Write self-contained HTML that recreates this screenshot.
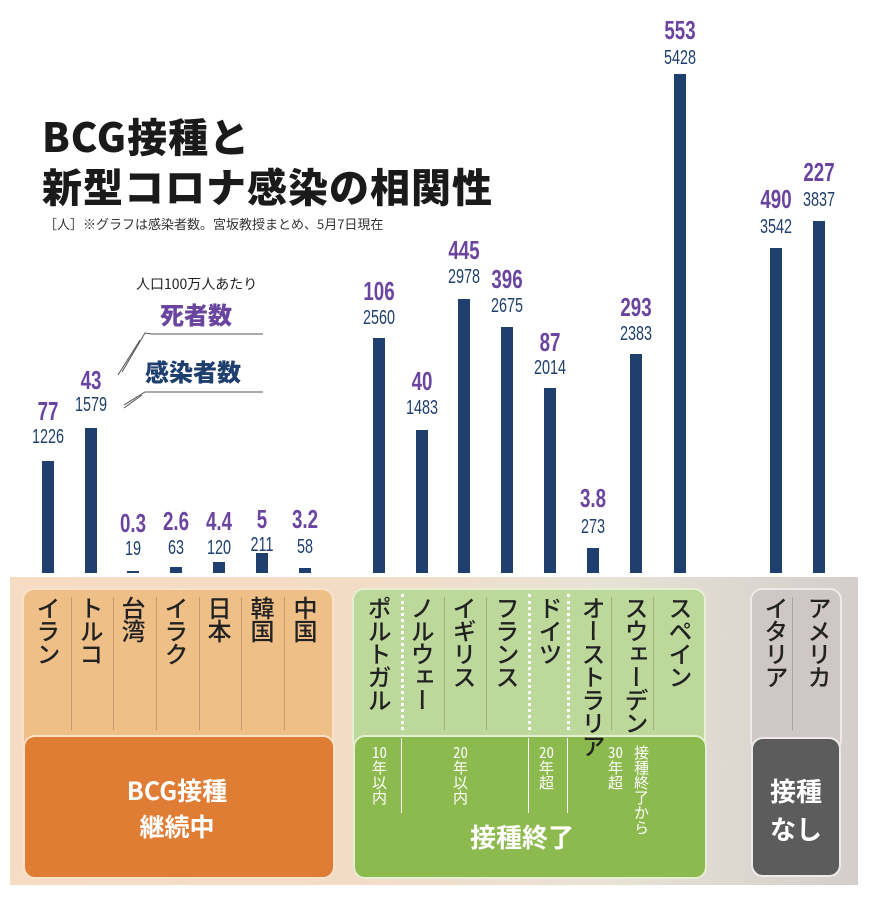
<!DOCTYPE html>
<html><head><meta charset="utf-8"><style>
body{margin:0;width:871px;height:900px;background:#fff;position:relative;overflow:hidden;font-family:"Liberation Sans","Noto Sans CJK JP",sans-serif}
.a{position:absolute}
.bar{position:absolute;width:12px;background:#1f3f6f;bottom:327px}
.d{position:absolute;width:60px;text-align:center;font-family:"Liberation Sans",sans-serif;font-weight:bold;color:#6a45a0;font-size:26px;line-height:26px;transform:scaleX(0.72)}
.c{position:absolute;width:60px;text-align:center;font-family:"Liberation Sans",sans-serif;color:#1f3f6f;font-size:20px;line-height:20px;transform:scaleX(0.72)}
.v{position:absolute;writing-mode:vertical-rl;font-family:"Noto Sans CJK JP",sans-serif;font-size:24px;line-height:26px;color:#222;font-weight:500;letter-spacing:-1px}
.sep{position:absolute;width:0;border-left:1px solid rgba(0,0,0,.18)}
.dot{position:absolute;width:0;border-left:3px dotted #fff}
.s{position:absolute;writing-mode:vertical-rl;font-family:"Noto Sans CJK JP",sans-serif;font-size:15px;line-height:17px;color:#fff}
.s b{text-combine-upright:all;font-weight:normal}
</style></head><body>
<div class="a" style="left:42px;top:110px;font-family:'Noto Sans CJK JP',sans-serif;font-weight:900;font-size:40px;line-height:50px;color:#1a1a1a;letter-spacing:1px">BCG接種と<br>新型コロナ感染の相関性</div>
<div class="a" style="left:44px;top:214px;font-family:'Noto Sans CJK JP',sans-serif;font-size:13px;color:#333">［人］※グラフは感染者数。宮坂教授まとめ、5月7日現在</div>
<div class="a" style="left:136px;top:274px;font-family:'Noto Sans CJK JP',sans-serif;font-size:14px;color:#222">人口100万人あたり</div>
<div class="a" style="left:160px;top:296px;font-family:'Noto Sans CJK JP',sans-serif;font-weight:900;font-size:24px;color:#6a45a0">死者数</div>
<div class="a" style="left:145px;top:353px;font-family:'Noto Sans CJK JP',sans-serif;font-weight:900;font-size:24px;color:#1f3f6f">感染者数</div>
<svg class="a" style="left:0;top:0" width="871" height="900"><g stroke="#555" stroke-width="1" fill="none"><polyline points="122,372 145,333 152,334 263,334"/><polyline points="118,375 140,340"/><polyline points="124,405 145,392 150,392 263,392"/><polyline points="124,408 142,395"/></g></svg>

<div class="bar" style="left:42px;height:112px"></div>
<div class="bar" style="left:85px;height:145px"></div>
<div class="bar" style="left:127px;height:2px"></div>
<div class="bar" style="left:170px;height:6px"></div>
<div class="bar" style="left:213px;height:11px"></div>
<div class="bar" style="left:256px;height:20px"></div>
<div class="bar" style="left:299px;height:5px"></div>
<div class="bar" style="left:373px;height:235px"></div>
<div class="bar" style="left:416px;height:143px"></div>
<div class="bar" style="left:458px;height:274px"></div>
<div class="bar" style="left:501px;height:246px"></div>
<div class="bar" style="left:544px;height:185px"></div>
<div class="bar" style="left:587px;height:25px"></div>
<div class="bar" style="left:630px;height:219px"></div>
<div class="bar" style="left:674px;height:499px"></div>
<div class="bar" style="left:770px;height:325px"></div>
<div class="bar" style="left:813px;height:352px"></div>

<div class="d" style="left:18px;top:398px">77</div><div class="c" style="left:18px;top:427px">1226</div>
<div class="d" style="left:61px;top:367px">43</div><div class="c" style="left:61px;top:395px">1579</div>
<div class="d" style="left:103px;top:510px">0.3</div><div class="c" style="left:103px;top:539px">19</div>
<div class="d" style="left:146px;top:508px">2.6</div><div class="c" style="left:146px;top:538px">63</div>
<div class="d" style="left:189px;top:508px">4.4</div><div class="c" style="left:189px;top:538px">120</div>
<div class="d" style="left:232px;top:506px">5</div><div class="c" style="left:232px;top:535px">211</div>
<div class="d" style="left:275px;top:506px">3.2</div><div class="c" style="left:275px;top:537px">58</div>
<div class="d" style="left:349px;top:278px">106</div><div class="c" style="left:349px;top:308px">2560</div>
<div class="d" style="left:392px;top:368px">40</div><div class="c" style="left:392px;top:398px">1483</div>
<div class="d" style="left:434px;top:237px">445</div><div class="c" style="left:434px;top:267px">2978</div>
<div class="d" style="left:477px;top:266px">396</div><div class="c" style="left:477px;top:296px">2675</div>
<div class="d" style="left:520px;top:329px">87</div><div class="c" style="left:520px;top:358px">2014</div>
<div class="d" style="left:563px;top:485px">3.8</div><div class="c" style="left:563px;top:517px">273</div>
<div class="d" style="left:606px;top:294px">293</div><div class="c" style="left:606px;top:324px">2383</div>
<div class="d" style="left:650px;top:17px">553</div><div class="c" style="left:650px;top:48px">5428</div>
<div class="d" style="left:746px;top:186px">490</div><div class="c" style="left:746px;top:217px">3542</div>
<div class="d" style="left:789px;top:159px">227</div><div class="c" style="left:789px;top:190px">3837</div>

<div class="a" style="left:10px;top:577px;width:848px;height:308px;background:linear-gradient(90deg,#f6dcc3 0%,#f3dcc6 40%,#e8e2d6 70%,#d3cecb 100%)"></div>
<div class="a" style="left:22px;top:588px;width:308px;height:160px;background:#efbf88;border-radius:12px;border:2px solid #f8e3c9"></div>
<div class="a" style="left:23px;top:735px;width:308px;height:140px;background:#e07d35;border-radius:12px;border:2px solid #f8e3c9"></div>
<div class="a" style="left:352px;top:588px;width:350px;height:160px;background:#bdd89b;border-radius:12px;border:2px solid #e5efd3"></div>
<div class="a" style="left:353px;top:735px;width:350px;height:140px;background:#8dba4e;border-radius:12px;border:2px solid #e5efd3"></div>
<div class="a" style="left:750px;top:588px;width:88px;height:160px;background:#cfc7c6;border-radius:12px;border:2px solid #eeeaea"></div>
<div class="a" style="left:751px;top:737px;width:86px;height:136px;background:#5c5c5c;border-radius:12px;border:2px solid #eeeaea"></div>

<div class="sep" style="left:71px;top:597px;height:133px"></div>
<div class="sep" style="left:113px;top:597px;height:133px"></div>
<div class="sep" style="left:156px;top:597px;height:133px"></div>
<div class="sep" style="left:199px;top:597px;height:133px"></div>
<div class="sep" style="left:241px;top:597px;height:133px"></div>
<div class="sep" style="left:284px;top:597px;height:133px"></div>
<div class="dot" style="left:401px;top:594px;height:136px"></div>
<div class="sep" style="left:444px;top:597px;height:133px"></div>
<div class="sep" style="left:486px;top:597px;height:133px"></div>
<div class="dot" style="left:528px;top:594px;height:136px"></div>
<div class="dot" style="left:567px;top:594px;height:136px"></div>
<div class="sep" style="left:611px;top:597px;height:133px"></div>
<div class="sep" style="left:653px;top:597px;height:133px"></div>
<div class="sep" style="left:792px;top:597px;height:133px"></div>

<div class="v" style="left:35px;top:596px">イラン</div>
<div class="v" style="left:78px;top:596px">トルコ</div>
<div class="v" style="left:120px;top:596px">台湾</div>
<div class="v" style="left:163px;top:596px">イラク</div>
<div class="v" style="left:206px;top:596px">日本</div>
<div class="v" style="left:249px;top:596px">韓国</div>
<div class="v" style="left:292px;top:596px">中国</div>
<div class="v" style="left:366px;top:596px">ポルトガル</div>
<div class="v" style="left:409px;top:596px">ノルウェー</div>
<div class="v" style="left:451px;top:596px">イギリス</div>
<div class="v" style="left:494px;top:596px">フランス</div>
<div class="v" style="left:537px;top:596px">ドイツ</div>
<div class="v" style="left:580px;top:596px">オーストラリア</div>
<div class="v" style="left:623px;top:596px">スウェーデン</div>
<div class="v" style="left:667px;top:596px">スペイン</div>
<div class="v" style="left:763px;top:596px">イタリア</div>
<div class="v" style="left:806px;top:596px">アメリカ</div>

<div class="a" style="left:23px;top:772px;width:308px;text-align:center;color:#fff;font-family:'Noto Sans CJK JP',sans-serif;font-weight:bold;font-size:25px;line-height:36px">BCG接種<br>継続中</div>

<div class="sep" style="left:401px;top:738px;height:75px;border-color:#fff"></div>
<div class="sep" style="left:528px;top:738px;height:75px;border-color:#fff"></div>
<div class="sep" style="left:567px;top:738px;height:75px;border-color:#fff"></div>
<div class="s" style="left:371px;top:745px"><b>10</b>年以内</div>
<div class="s" style="left:452px;top:745px"><b>20</b>年以内</div>
<div class="s" style="left:538px;top:745px"><b>20</b>年超</div>
<div class="s" style="left:607px;top:745px"><b>30</b>年超</div>
<div class="s" style="left:633px;top:745px">接種終了から</div>
<div class="a" style="left:470px;top:818px;color:#fff;font-family:'Noto Sans CJK JP',sans-serif;font-weight:bold;font-size:26px">接種終了</div>
<div class="a" style="left:751px;top:772px;width:90px;text-align:center;color:#fff;font-family:'Noto Sans CJK JP',sans-serif;font-weight:bold;font-size:26px;line-height:38px">接種<br>なし</div>
</body></html>
